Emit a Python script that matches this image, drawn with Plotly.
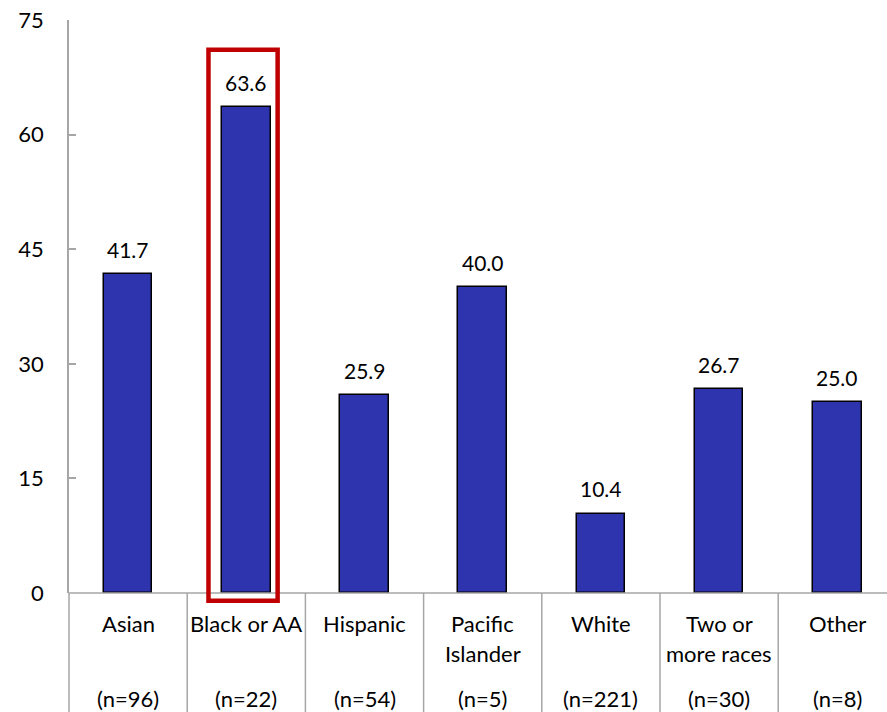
import plotly.graph_objects as go

# Share of respondents by race/ethnicity (%)
categories = ["Asian", "Black or AA", "Hispanic", "Pacific Islander", "White", "Two or more races", "Other"]
label_lines = [["Asian"], ["Black or AA"], ["Hispanic"], ["Pacific", "Islander"],
               ["White"], ["Two or", "more races"], ["Other"]]
sample_sizes = [96, 22, 54, 5, 221, 30, 8]
values = [41.7, 63.6, 25.9, 40.0, 10.4, 26.7, 25.0]
y_ticks = [0, 15, 30, 45, 60, 75]
highlight = "Black or AA"

FONT = "Lato"
BAR_COLOR = "#2E34AE"
GRID_GRAY = "#A6A6A6"

W, H = 887, 712
plot_left, plot_top, plot_bottom = 69, 20, 593
cat_px = 118.2
x_range = [-0.5, -0.5 + (W - plot_left) / cat_px]
y_range = [0, 75]
x_domain = [plot_left / W, 1.0]
y_domain = [(H - plot_bottom) / H, (H - plot_top) / H]


def xp(x):
    return x_domain[0] + (x - x_range[0]) / (x_range[1] - x_range[0]) * (x_domain[1] - x_domain[0])


def yp(y):
    return y_domain[0] + (y - y_range[0]) / (y_range[1] - y_range[0]) * (y_domain[1] - y_domain[0])


def py(pixel_y):
    return 1 - pixel_y / H


xs = list(range(len(categories)))

fig = go.Figure()
fig.add_trace(go.Bar(
    x=xs, y=values, width=0.41,
    marker=dict(color=BAR_COLOR, line=dict(color="black", width=1.5)),
    hoverinfo="skip", showlegend=False,
))

annotations = []
shapes = []

# value labels above bars
for x, v in zip(xs, values):
    annotations.append(dict(
        x=x, y=v, xref="x", yref="y", text=f"{v:.1f}", showarrow=False,
        yanchor="middle", yshift=25, font=dict(family=FONT, size=21, color="black"),
    ))

# category labels and sample sizes below the axis
for x, lines, n in zip(xs, label_lines, sample_sizes):
    for j, line in enumerate(lines):
        annotations.append(dict(
            x=x, y=py(623 + 30 * j), xref="x", yref="paper", text=line, showarrow=False,
            yanchor="middle", font=dict(family=FONT, size=22, color="black"),
        ))
    annotations.append(dict(
        x=x, y=py(698), xref="x", yref="paper", text=f"(n={n})", showarrow=False,
        yanchor="middle", font=dict(family=FONT, size=22, color="black"),
    ))

# baseline and category dividers
shapes.append(dict(type="line", xref="paper", yref="paper",
                   x0=x_domain[0], x1=1, y0=y_domain[0], y1=y_domain[0],
                   line=dict(color=GRID_GRAY, width=1.5)))
for k in range(len(categories) + 1):
    xv = xp(k - 0.5)
    if xv <= 1.0:
        shapes.append(dict(type="line", xref="paper", yref="paper",
                           x0=xv, x1=xv, y0=0, y1=y_domain[0],
                           line=dict(color=GRID_GRAY, width=1.5)))

# highlight box
hi = categories.index(highlight)
shapes.append(dict(type="rect", xref="paper", yref="paper",
                   x0=xp(hi - 0.32), x1=xp(hi + 0.265),
                   y0=yp(-1.0), y1=yp(values[hi] + 7.5),
                   line=dict(color="#C00000", width=4.5), fillcolor="rgba(0,0,0,0)",
                   layer="above"))

fig.update_layout(
    width=W, height=H,
    margin=dict(l=0, r=0, t=0, b=0, pad=0),
    paper_bgcolor="white", plot_bgcolor="white",
    font=dict(family=FONT, color="black"),
    bargap=0,
    xaxis=dict(range=x_range, domain=x_domain, showticklabels=False, showgrid=False,
               zeroline=False, showline=False, ticks="", automargin=False),
    yaxis=dict(range=y_range, domain=y_domain, tickvals=y_ticks, ticks="inside", ticklen=7,
               tickcolor=GRID_GRAY, tickwidth=1.5, showline=True, linecolor=GRID_GRAY,
               linewidth=1.5, showgrid=False, zeroline=False, ticklabelstandoff=19,
               automargin=False,
               tickfont=dict(family=FONT, size=22, color="black")),
    annotations=annotations, shapes=shapes,
)

fig.write_html("out.html")
